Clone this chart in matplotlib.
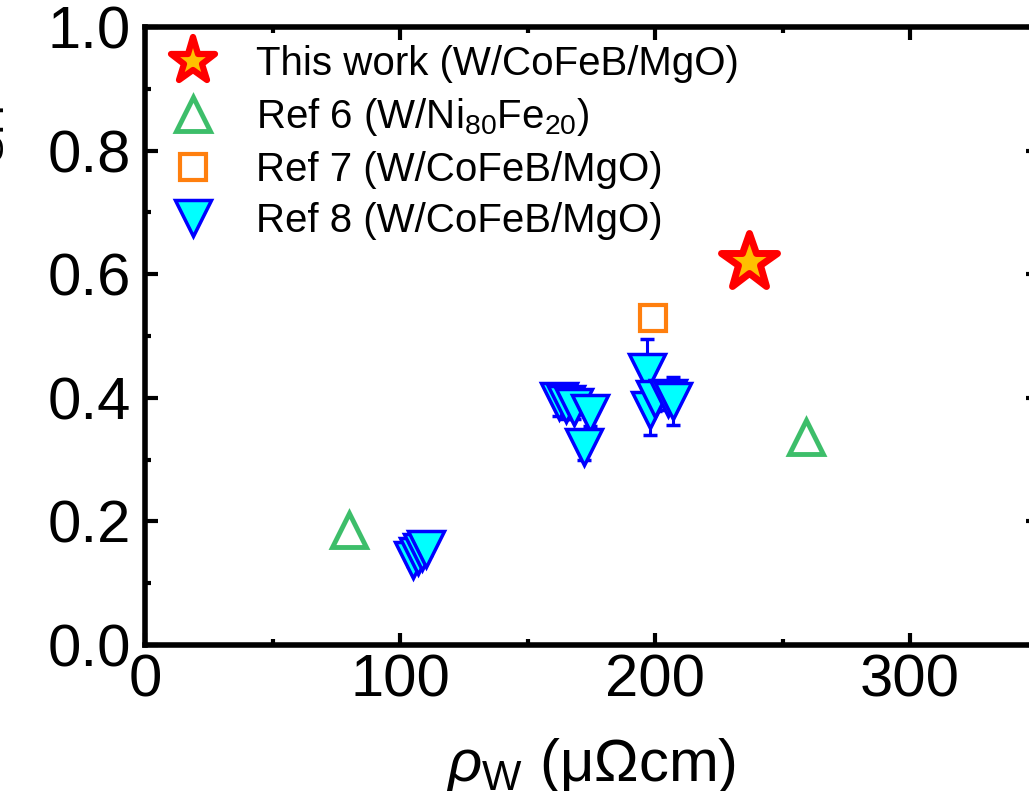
import matplotlib
matplotlib.use("Agg")
import matplotlib.pyplot as plt
from matplotlib.lines import Line2D
from matplotlib.markers import MarkerStyle
from matplotlib.ticker import MultipleLocator, FormatStrFormatter

# data
this_x = [237]
this_y = [0.62]

ref6_x = [80, 259]
ref6_y = [0.186, 0.337]

ref7_x = [199]
ref7_y = [0.529]

ref8_x = [105, 107, 108.5, 110, 162.5, 165, 168, 174.5, 172,
          197, 198, 200, 205, 207]
ref8_y = [0.138, 0.144, 0.150, 0.155, 0.395, 0.39, 0.385, 0.375, 0.32,
          0.442, 0.38, 0.398, 0.40, 0.395]
ref8_err = [0.01, 0.01, 0.01, 0.01, 0.025, 0.025, 0.02, 0.02, 0.02,
            0.053, 0.04, 0.02, 0.02, 0.039]

plt.rcParams['font.family'] = ['Liberation Sans', 'DejaVu Sans']
plt.rcParams['mathtext.fontset'] = 'custom'
plt.rcParams['mathtext.rm'] = 'Liberation Sans'
plt.rcParams['mathtext.it'] = 'Liberation Sans:italic'
plt.rcParams['axes.unicode_minus'] = False

fig = plt.figure(figsize=(10.29, 7.91), dpi=100)
ax = fig.add_axes([0.141, 0.1846, 0.8674, 0.7813])

star = MarkerStyle('*', joinstyle='round')
tri_up = MarkerStyle('^', joinstyle='miter')

cyan = '#00FFFF'
blue = '#0000FF'
green = '#3DBE6A'
orange = '#FF7F0E'

# Ref 8, one point at a time (bar then marker)
for x, y, e in zip(ref8_x, ref8_y, ref8_err):
    ax.errorbar(x, y, yerr=e, fmt='v', ms=26, mfc=cyan, mec=blue, mew=2.5,
                ecolor=blue, elinewidth=2.2, capsize=5, capthick=2.2, zorder=3)

ax.plot(ref6_x, ref6_y, ls='none', marker=tri_up, ms=24, mfc='none',
        mec=green, mew=3.5, zorder=4)
ax.plot(ref7_x, ref7_y, ls='none', marker='s', ms=19, mfc='none',
        mec=orange, mew=3, zorder=4)
ax.plot(this_x, this_y, ls='none', marker=star, ms=42, mfc='#FFC000',
        mec='#FF0000', mew=5, zorder=5)

handles = [
    Line2D([], [], ls='none', marker=star, ms=34, mfc='#FFC000', mec='#FF0000', mew=4.5),
    Line2D([], [], ls='none', marker=tri_up, ms=24, mfc='none', mec=green, mew=3.5),
    Line2D([], [], ls='none', marker='s', ms=19, mfc='none', mec=orange, mew=3),
    Line2D([], [], ls='none', marker='v', ms=26, mfc=cyan, mec=blue, mew=2.5),
]
labels = ['This work (W/CoFeB/MgO)',
          'Ref 6 (W/Ni$_{80}$Fe$_{20}$)',
          'Ref 7 (W/CoFeB/MgO)',
          'Ref 8 (W/CoFeB/MgO)']
ax.legend(handles, labels, loc='upper left', bbox_to_anchor=(0.0, 1.0),
          frameon=False, fontsize=29, handletextpad=0.8, labelspacing=0.32,
          borderaxespad=0.15, handlelength=1.5, borderpad=0.3)

ax.set_xlim(0, 350)
ax.set_ylim(0, 1.0)
ax.xaxis.set_major_locator(MultipleLocator(100))
ax.xaxis.set_minor_locator(MultipleLocator(50))
ax.yaxis.set_major_locator(MultipleLocator(0.2))
ax.yaxis.set_minor_locator(MultipleLocator(0.1))
ax.yaxis.set_major_formatter(FormatStrFormatter('%.1f'))

ax.tick_params(which='both', direction='in', top=True, right=True, width=3)
ax.tick_params(which='major', length=9, labelsize=43)
ax.tick_params(which='minor', length=4.5)
ax.tick_params(axis='x', pad=6)
ax.tick_params(axis='y', pad=10)
for s in ax.spines.values():
    s.set_linewidth(4)

ax.set_xlabel(r'$\rho_{\rm W}$ (μΩcm)', fontsize=43, labelpad=20)
ax.set_ylabel(r'$\theta_{\rm SH}$', fontsize=43)
ax.yaxis.set_label_coords(-0.155, 0.8)

fig.savefig('out.png', dpi=100)
